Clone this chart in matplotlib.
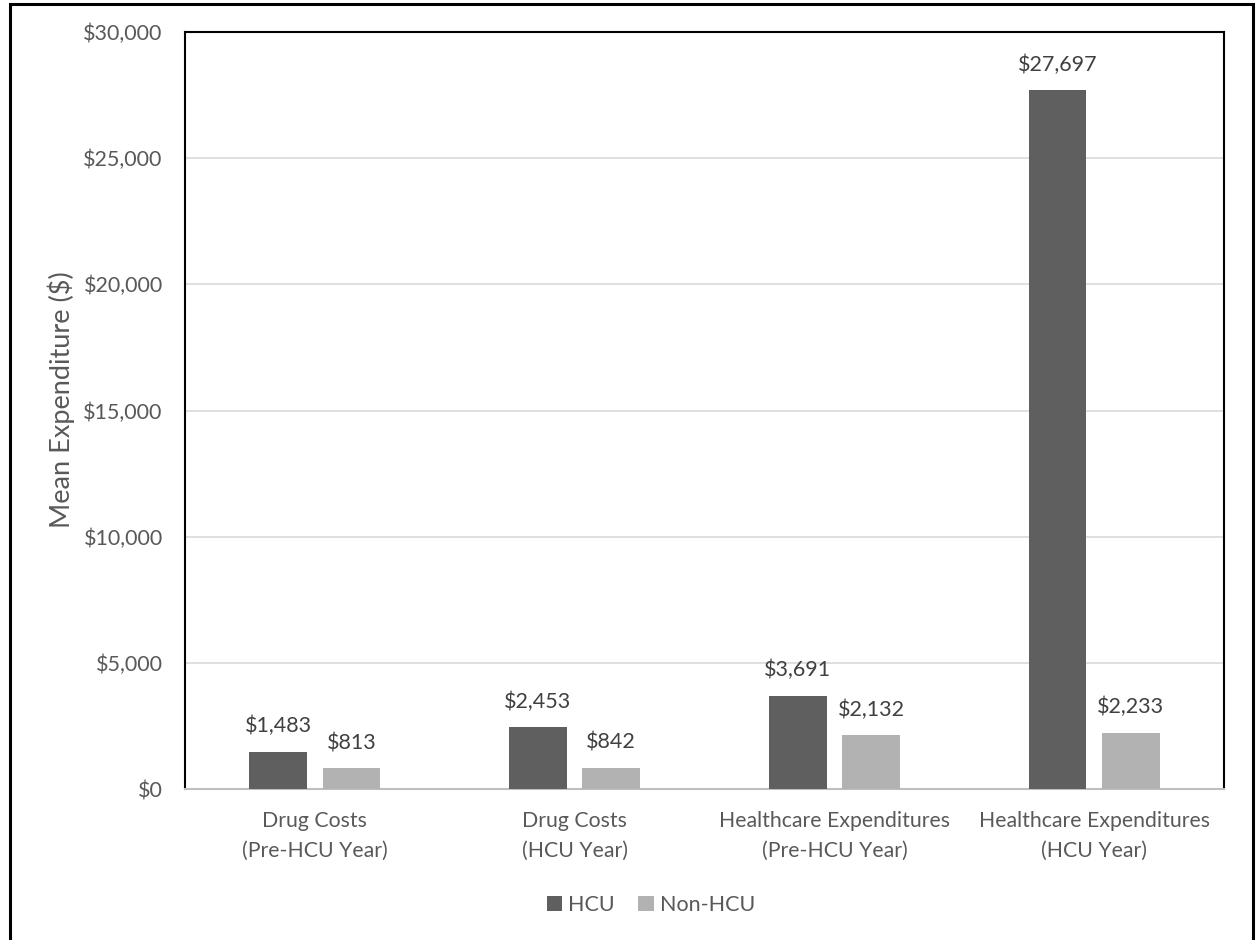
import matplotlib
matplotlib.use("Agg")
import matplotlib.pyplot as plt
from matplotlib.patches import Rectangle
import numpy as np

plt.rcParams['font.family'] = ['Lato', 'DejaVu Sans']

categories = ["Drug Costs\n(Pre-HCU Year)", "Drug Costs\n(HCU Year)",
              "Healthcare Expenditures\n(Pre-HCU Year)", "Healthcare Expenditures\n(HCU Year)"]
hcu = [1483, 2453, 3691, 27697]
non_hcu = [813, 842, 2132, 2233]
series_names = ["HCU", "Non-HCU"]
yticks = [0, 5000, 10000, 15000, 20000, 25000, 30000]

c_hcu = "#5f5f5f"
c_non = "#b2b2b2"
txt = "#595959"

fig = plt.figure(figsize=(12.59, 9.40), dpi=100)
ax = fig.add_axes([185 / 1259, 1 - 789 / 940, (1224 - 185) / 1259, (789 - 32) / 940])

x = np.arange(len(categories))
w = 0.223
off = 0.141
b1 = ax.bar(x - off, hcu, w, color=c_hcu, label=series_names[0], zorder=3)
b2 = ax.bar(x + off, non_hcu, w, color=c_non, label=series_names[1], zorder=3)

for bars, vals in ((b1, hcu), (b2, non_hcu)):
    for r, v in zip(bars, vals):
        ax.annotate(f"${v:,}", (r.get_x() + r.get_width() / 2, v), xytext=(0, 11),
                    textcoords="offset points", ha="center", va="bottom",
                    fontsize=15.5, color="#404040")

ax.set_xlim(-0.5, 3.5)
ax.set_ylim(0, 30000)
ax.set_yticks(yticks)
ax.set_yticklabels([f"${v:,}" for v in yticks], fontsize=15.5, color=txt)
ax.set_xticks(x)
ax.set_xticklabels(categories, fontsize=15.3, color=txt, linespacing=1.6)
ax.tick_params(axis="both", length=0)
ax.tick_params(axis="y", pad=16)
ax.tick_params(axis="x", pad=16)
ax.yaxis.grid(True, color="#d9d9d9", linewidth=1.2, zorder=0)
ax.set_axisbelow(True)

for s in ("left", "top", "right"):
    ax.spines[s].set_color("black")
    ax.spines[s].set_linewidth(1.5)
ax.spines["bottom"].set_color("#bfbfbf")
ax.spines["bottom"].set_linewidth(1.5)

ax.set_ylabel("Mean Expenditure ($)", fontsize=19.5, color=txt, va="center")
ax.yaxis.set_label_coords((61 - 185) / 1039, (789 - 400) / 757)

leg = fig.legend(handles=[b1, b2], labels=series_names, loc="center",
                 bbox_to_anchor=(0.517, 1 - 905 / 940), ncol=2, frameon=False,
                 fontsize=15.5, handlelength=0.7, handleheight=0.7,
                 handletextpad=0.3, columnspacing=1.1)
for t in leg.get_texts():
    t.set_color(txt)

fig.patches.append(Rectangle((9.5 / 1259, -0.01), (1253 - 9.5) / 1259, 1 - 3.5 / 940 + 0.01,
                             transform=fig.transFigure, fill=False,
                             edgecolor="black", linewidth=2.2))

fig.savefig("out.png", dpi=100, facecolor="white")
